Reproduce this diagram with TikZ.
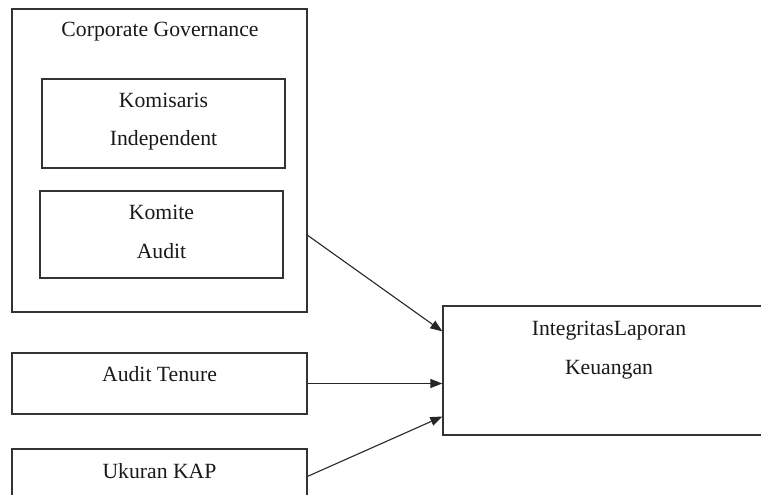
\documentclass[tikz,border=0pt]{standalone}
\usepackage{fontspec}
\setmainfont{Liberation Serif}
\usetikzlibrary{arrows.meta,calc}
\begin{document}
\begin{tikzpicture}[x=1pt,y=-1pt,
  box/.style={draw=black!80,line width=1.3pt,rectangle,inner sep=0pt},
  txt/.style={anchor=base,inner sep=0pt,text=black!90,font=\fontsize{21.7}{26}\selectfont},
  arr/.style={draw=black!85,line width=1.1pt,-{Triangle[length=12pt,width=9pt]}}]
\useasboundingbox (0,0) rectangle (761,495);
% boxes
\node[box,minimum width=295pt,minimum height=303pt] (cg) at (159.5,160.5) {};
\node[box,minimum width=243pt,minimum height=89pt] (ki) at (163.5,123.5) {};
\node[box,minimum width=243pt,minimum height=87pt] (ka) at (161.5,234.5) {};
\node[box,minimum width=295pt,minimum height=61pt] (at) at (159.5,383.5) {};
\node[box,minimum width=295pt,minimum height=60pt] (uk) at (159.5,479) {};
\node[box,minimum width=330pt,minimum height=129pt] (il) at (608,370.5) {};
% texts
\node[txt] (tcg) at (160,37) {Corporate Governance};
\node[txt] (tki1) at (163.5,107) {Komisaris};
\node[txt] (tki2) at (163.5,146) {Independent};
\node[txt] (tka1) at (161.5,219) {Komite};
\node[txt] (tka2) at (161.5,258) {Audit};
\node[txt] (tat) at (159.5,381) {Audit Tenure};
\node[txt] (tuk) at (159.5,478) {Ukuran KAP};
\node[txt] (til1) at (609,335) {IntegritasLaporan};
\node[txt] (til2) at (609,374) {Keuangan};
% arrows
\draw[arr] ($(cg.south east)!0.254!(cg.north east)$) -- ($(il.south west)!0.8!(il.north west)$);
\draw[arr] (at.east) -- (il.west |- at.east);
\draw[arr] ($(uk.north east)+(0,28)$) -- ($(il.south west)!0.147!(il.north west)$);
\end{tikzpicture}
\end{document}
